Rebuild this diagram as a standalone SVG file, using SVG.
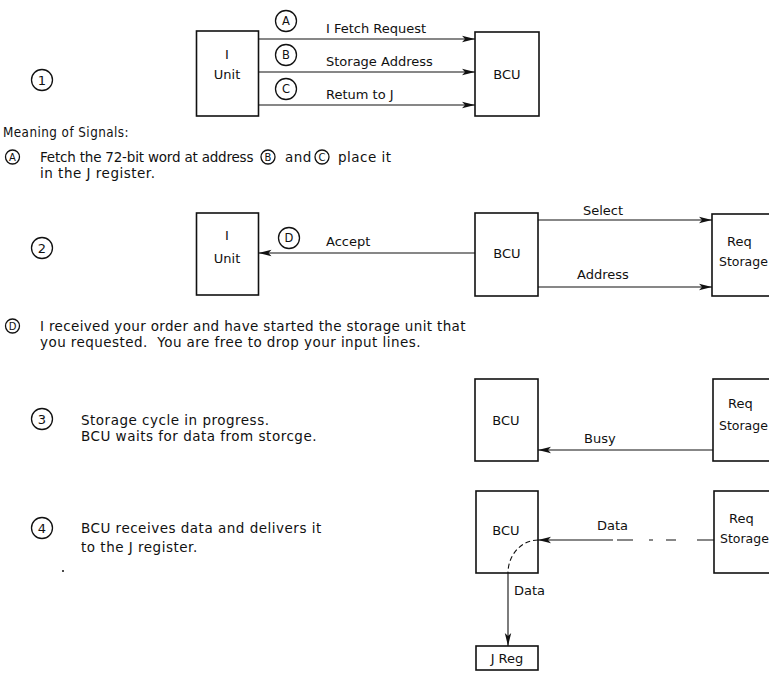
<svg xmlns="http://www.w3.org/2000/svg" width="769" height="674" viewBox="0 0 769 674">
<defs>
<marker id="ah" markerWidth="14" markerHeight="8" refX="13" refY="4" orient="auto" markerUnits="userSpaceOnUse"><path d="M0,0.8 L13,4 L0,7.2 L3,4 Z" fill="#111"/></marker>
</defs>
<style>
.box{fill:#fff;stroke:#111;stroke-width:1.6}
.ln{stroke:#111;stroke-width:1.1;fill:none}
.dash{stroke:#111;stroke-width:1.1;fill:none;stroke-dasharray:5 3}
text{font-family:"DejaVu Sans","Liberation Sans",sans-serif;font-size:13px;fill:#111}
.c{text-anchor:middle}
.circ{fill:#fff;stroke:#111;stroke-width:1.3}
.sm{font-size:11.5px}
.sc{font-size:10px}
.b{font-size:13.5px;letter-spacing:0.5px}
.st{font-size:12.5px}
</style>
<rect width="769" height="674" fill="#fff"/>

<!-- Section 1 -->
<g id="step1"><circle class="circ" cx="42" cy="80" r="10.5"/><text class="c" x="42" y="84.5">1</text></g>
<g id="iunit1"><rect class="box" x="196.5" y="31" width="62" height="85"/><text class="c" x="227" y="59">I</text><text class="c" x="227" y="79">Unit</text></g>
<g id="bcu1"><rect class="box" x="475" y="32" width="64" height="84"/><text class="c" x="507" y="79">BCU</text></g>
<g id="sigA"><circle class="circ" cx="286" cy="21" r="10.5"/><text class="c sm" x="286" y="25">A</text></g>
<g id="sigB"><circle class="circ" cx="286" cy="55" r="10.5"/><text class="c sm" x="286" y="59">B</text></g>
<g id="sigC"><circle class="circ" cx="286" cy="89" r="10.5"/><text class="c sm" x="286" y="93">C</text></g>

<!-- Meaning -->
<g id="meaning">
<text class="b" x="3" y="137" textLength="126" lengthAdjust="spacingAndGlyphs">Meaning of Signals:</text>
<circle class="circ" cx="12.5" cy="157" r="7"/><text class="c sc" x="12.5" y="160.5">A</text>
<text class="b" x="40" y="162" textLength="214" lengthAdjust="spacing">Fetch the 72-bit word at address</text>
<circle class="circ" cx="268" cy="157" r="7"/><text class="c sc" x="268" y="160.5">B</text>
<text class="b" x="285" y="162">and</text>
<circle class="circ" cx="322" cy="157" r="7"/><text class="c sc" x="322" y="160.5">C</text>
<text class="b" x="338" y="162">place it</text>
<text class="b" x="40" y="178" letter-spacing="0.3">in the J register.</text>
</g>

<!-- Section 2 -->
<g id="step2"><circle class="circ" cx="42" cy="248" r="10.5"/><text class="c" x="42" y="252.5">2</text></g>
<g id="iunit2"><rect class="box" x="196.5" y="213" width="62" height="82"/><text class="c" x="227" y="240">I</text><text class="c" x="227" y="263">Unit</text></g>
<g id="sigD"><circle class="circ" cx="289" cy="238" r="10.5"/><text class="c sm" x="289" y="242">D</text></g>
<g id="bcu2"><rect class="box" x="475" y="213" width="63" height="83"/><text class="c" x="507" y="258">BCU</text></g>
<g id="req2"><rect class="box" x="712" y="214" width="70" height="82"/><text x="727" y="246">Req</text><text class="st" x="719" y="266">Storage</text></g>

<g id="meaningD">
<circle class="circ" cx="12.5" cy="326" r="7"/><text class="c sc" x="12.5" y="329.5">D</text>
<text class="b" x="40" y="331" textLength="426" lengthAdjust="spacing">I received your order and have started the storage unit that</text>
<text class="b" x="40" y="347" textLength="381" lengthAdjust="spacing" xml:space="preserve">you requested.  You are free to drop your input lines.</text>
</g>

<!-- Section 3 -->
<g id="step3"><circle class="circ" cx="42" cy="419" r="10.5"/><text class="c" x="42" y="423.5">3</text>
<text class="b" x="81" y="425">Storage cycle in progress.</text>
<text class="b" x="81" y="441">BCU waits for data from storcge.</text></g>
<g id="bcu3"><rect class="box" x="475" y="379" width="63" height="82"/><text class="c" x="506" y="425">BCU</text></g>
<g id="req3"><rect class="box" x="713" y="379" width="70" height="82"/><text x="728" y="408">Req</text><text class="st" x="719" y="430">Storage</text></g>

<!-- Section 4 -->
<g id="step4"><circle class="circ" cx="42" cy="528" r="10.5"/><text class="c" x="42" y="532.5">4</text>
<text class="b" x="81" y="533">BCU receives data and delivers it</text>
<text class="b" x="81" y="552">to the J register.</text>
<circle cx="63" cy="571" r="1" fill="#111"/></g>
<g id="bcu4"><rect class="box" x="476" y="491" width="62" height="82"/><text class="c" x="506" y="535">BCU</text></g>
<g id="req4"><rect class="box" x="714" y="491" width="70" height="82"/><text x="729" y="523">Req</text><text class="st" x="720" y="543">Storage</text></g>
<g id="jreg"><rect class="box" x="476" y="646" width="62" height="24"/><text class="c" x="507" y="663">J Reg</text></g>

<g id="connectors">
<line class="ln" x1="258.5" y1="39" x2="475" y2="39" marker-end="url(#ah)"/>
<line class="ln" x1="258.5" y1="72" x2="475" y2="72" marker-end="url(#ah)"/>
<line class="ln" x1="258.5" y1="105" x2="475" y2="105" marker-end="url(#ah)"/>
<line class="ln" x1="475" y1="253" x2="258.5" y2="253" marker-end="url(#ah)"/>
<line class="ln" x1="538" y1="220" x2="712" y2="220" marker-end="url(#ah)"/>
<line class="ln" x1="538" y1="287" x2="712" y2="287" marker-end="url(#ah)"/>
<line class="ln" x1="713" y1="450" x2="538" y2="450" marker-end="url(#ah)"/>
<path class="ln" d="M714,540 H697 M676,540 H666 M653,540 H649 M633,540 H617"/>
<line class="ln" x1="613" y1="540" x2="538" y2="540" marker-end="url(#ah)"/>
<path class="dash" d="M538,540 A30,33 0 0 0 508,573"/>
<line class="ln" x1="508" y1="573" x2="508" y2="646" marker-end="url(#ah)"/>
<text x="326" y="33">I Fetch Request</text>
<text x="326" y="66">Storage Address</text>
<text x="326" y="99">Retum to J</text>
<text x="326" y="246">Accept</text>
<text class="c" x="603" y="215">Select</text>
<text class="c" x="603" y="279">Address</text>
<text x="584" y="443">Busy</text>
<text x="597" y="530">Data</text>
<text x="514" y="595">Data</text>
</g>
</svg>
